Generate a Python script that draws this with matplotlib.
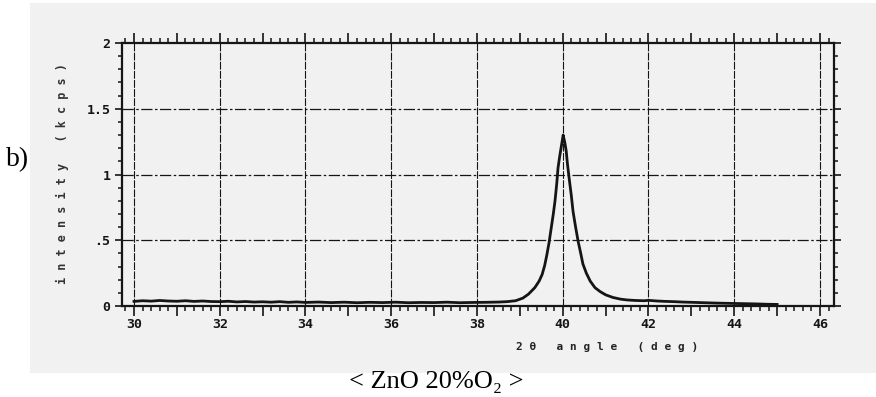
import matplotlib
matplotlib.use("Agg")
import matplotlib.pyplot as plt
from matplotlib.patches import Rectangle
from matplotlib.ticker import MultipleLocator, FixedLocator, FixedFormatter

# === DATA ===
two_theta = [
    30.0, 30.2, 30.4, 30.6, 30.8, 31.0, 31.2, 31.4, 31.6, 31.8,
    32.0, 32.2, 32.4, 32.6, 32.8, 33.0, 33.2, 33.4, 33.6, 33.8,
    34.0, 34.3, 34.6, 34.9, 35.2, 35.5, 35.8, 36.1, 36.4, 36.7,
    37.0, 37.3, 37.6, 37.9, 38.2, 38.5, 38.7, 38.9, 39.07, 39.2,
    39.35, 39.45, 39.52, 39.58, 39.63, 39.68, 39.73, 39.78, 39.82, 39.86,
    39.89, 39.93, 39.96, 39.99, 40.01, 40.03, 40.05, 40.08, 40.11, 40.15,
    40.2, 40.24, 40.3, 40.36, 40.42, 40.47, 40.55, 40.64, 40.75, 40.87,
    41.0, 41.17, 41.35, 41.5, 41.7, 41.9, 42.0, 42.2, 42.4, 42.6,
    42.8, 43.0, 43.3, 43.6, 43.9, 44.2, 44.5, 44.8, 45.0,
]
intensity = [
    0.035, 0.040, 0.037, 0.042, 0.038, 0.036, 0.040, 0.035, 0.038, 0.034,
    0.033, 0.036, 0.031, 0.034, 0.030, 0.032, 0.029, 0.033, 0.028, 0.031,
    0.027, 0.030, 0.026, 0.029, 0.025, 0.028, 0.026, 0.029, 0.025, 0.027,
    0.026, 0.029, 0.025, 0.027, 0.028, 0.030, 0.033, 0.040, 0.060, 0.090,
    0.140, 0.190, 0.240, 0.310, 0.390, 0.480, 0.590, 0.700, 0.800, 0.930,
    1.050, 1.140, 1.200, 1.260, 1.300, 1.270, 1.240, 1.180, 1.080, 0.970,
    0.840, 0.720, 0.600, 0.490, 0.400, 0.320, 0.250, 0.190, 0.140, 0.110,
    0.085, 0.065, 0.052, 0.046, 0.042, 0.040, 0.043, 0.038, 0.035, 0.033,
    0.030, 0.028, 0.025, 0.022, 0.020, 0.018, 0.016, 0.013, 0.012,
]

x_grid = [30, 32, 34, 36, 38, 40, 42, 44, 46]
y_ticks = [0, 0.5, 1, 1.5, 2]
y_tick_labels = ["0", ".5", "1", "1.5", "2"]
y_grid = [0.5, 1, 1.5]

W, H = 876, 397
INK = "#151515"
MONO = "DejaVu Sans Mono"
SERIF = ["Liberation Serif", "DejaVu Serif"]


def fx(px):
    return px / W


def fy(py):
    return 1 - py / H


fig = plt.figure(figsize=(W / 100, H / 100), dpi=100)
fig.patch.set_facecolor("white")

# scanned page tone
fig.patches.append(Rectangle((fx(30), fy(373)), fx(846), 370 / H,
                             transform=fig.transFigure, facecolor="#f1f1f1",
                             edgecolor="none", zorder=-5))

ax = fig.add_axes([fx(121.7), fy(306), fx(834 - 121.7), (306 - 43) / H])
ax.set_facecolor("none")
ax.set_zorder(2)

ax.plot(two_theta, intensity, color=INK, linewidth=2.0, zorder=3)

# grid
for gx in x_grid:
    ax.axvline(gx, color=INK, linewidth=0.8, linestyle=(0, (7, 1.2)), zorder=1)
for gy in y_grid:
    ax.axhline(gy, color=INK, linewidth=0.9, linestyle=(0, (9, 2, 2, 2)), zorder=1)

ax.set_xlim(29.713, 46.327)
ax.set_ylim(0, 2)

for s in ax.spines.values():
    s.set_linewidth(1.6)
    s.set_color(INK)

# x ticks: major every 1 deg (labels on even values), minor every 0.2
ax.xaxis.set_major_locator(FixedLocator(list(range(30, 47))))
ax.xaxis.set_major_formatter(FixedFormatter(
    [str(v) if v in x_grid else "" for v in range(30, 47)]))
ax.xaxis.set_minor_locator(MultipleLocator(0.2))

ax.yaxis.set_major_locator(FixedLocator(y_ticks))
ax.yaxis.set_major_formatter(FixedFormatter(y_tick_labels))
ax.yaxis.set_minor_locator(MultipleLocator(0.1))

ax.tick_params(axis="x", which="major", direction="out", length=7, width=1.2,
               top=True, bottom=True, colors=INK, labelsize=9.5, pad=1.5)
ax.tick_params(axis="x", which="minor", direction="out", length=3.5, width=1.1,
               top=True, bottom=True, colors=INK)
ax.tick_params(axis="y", which="major", direction="out", length=5, width=1.2,
               left=True, right=True, colors=INK, labelsize=9.5, pad=3)
ax.tick_params(axis="y", which="minor", direction="out", length=3, width=1.1,
               left=True, right=True, colors=INK)
for lab in ax.get_xticklabels() + ax.get_yticklabels():
    lab.set_family(MONO)
    lab.set_fontweight("bold")

# axis titles in plotter style
fig.text(fx(62), fy(174), "i n t e n s i t y   ( k c p s )", rotation=90,
         ha="center", va="center", family=MONO, fontsize=8.5,
         fontweight="bold", color="#333333")
fig.text(fx(607), fy(347), "2 θ   a n g l e   ( d e g )",
         ha="center", va="center", family=MONO, fontsize=8.0,
         fontweight="bold", color="#222222")

# panel letter and caption
fig.text(fx(18), fy(160), "b)", ha="center", va="center",
         family=SERIF, fontsize=20, color="black")
fig.text(fx(436), fy(382), "< ZnO 20%O₂ >", ha="center", va="center",
         family=SERIF, fontsize=19, color="black")

fig.savefig("out.png", dpi=100)
